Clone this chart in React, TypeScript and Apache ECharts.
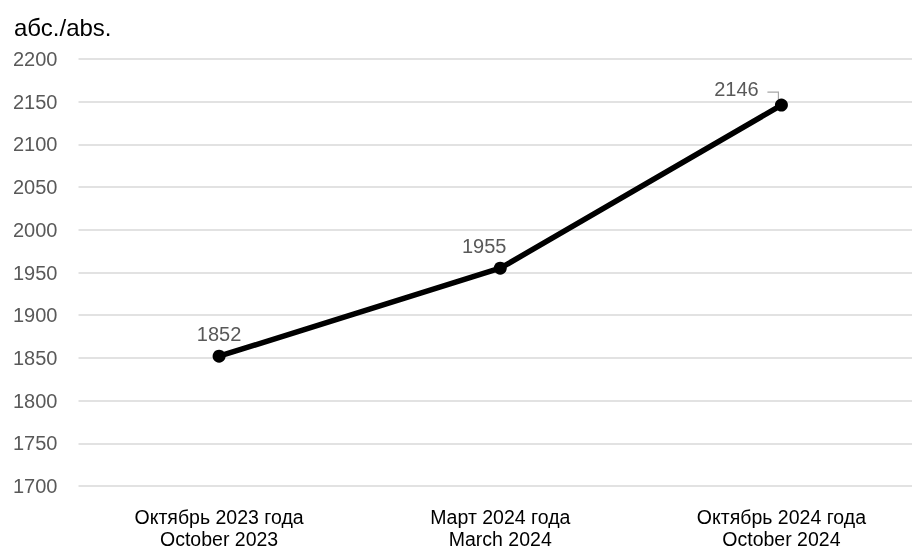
import React, { useEffect, useRef } from "react";
import * as echarts from "echarts";

const categories = ["Октябрь 2023 года\nOctober 2023", "Март 2024 года\nMarch 2024", "Октябрь 2024 года\nOctober 2024"];
const values = [1852, 1955, 2146];
const yTicks = { min: 1700, max: 2200, interval: 50 };
const unitTitle = "абс./abs.";

export default function App() {
  const ref = useRef<HTMLDivElement>(null);
  useEffect(() => {
    document.body.style.margin = "0";
    document.body.style.overflow = "hidden";
    const chart = echarts.init(ref.current!, null, { renderer: "svg" });
    chart.setOption({
      animation: false,
      title: {
        text: unitTitle,
        left: 9,
        top: 10,
        textStyle: { fontFamily: "Liberation Sans", fontSize: 24, fontWeight: "normal", color: "#000" },
      },
      grid: { left: 78.5, right: 0, top: 59, bottom: 63 },
      xAxis: {
        type: "category",
        data: categories,
        boundaryGap: true,
        axisLine: { show: false },
        axisTick: { show: false },
        axisLabel: {
          margin: 20,
          fontFamily: "Liberation Sans",
          fontSize: 19.5,
          lineHeight: 22,
          color: "#000",
        },
      },
      yAxis: {
        type: "value",
        min: yTicks.min,
        max: yTicks.max,
        interval: yTicks.interval,
        axisLine: { show: false },
        axisTick: { show: false },
        splitLine: { lineStyle: { color: "#d9d9d9", width: 1.5 } },
        axisLabel: {
          margin: 21,
          fontFamily: "Liberation Sans",
          fontSize: 20,
          color: "#595959",
          formatter: (v: number) => String(v),
        },
      },
      series: [
        {
          type: "line",
          data: values.map((v, i) => ({
            value: v,
            label:
              i === 1
                ? { offset: [-16, 3] }
                : i === 2
                ? { offset: [-45, 9] }
                : { offset: [0, 3] },
          })),
          lineStyle: { color: "#000", width: 5.5 },
          itemStyle: { color: "#000" },
          symbol: "circle",
          symbolSize: 13,
          label: {
            show: true,
            position: "top",
            distance: 9,
            fontFamily: "Liberation Sans",
            fontSize: 20,
            color: "#595959",
          },
        },
      ],
    });
    const p = chart.convertToPixel({ gridIndex: 0 } as any, [2, values[2]]) as number[];
    chart.setOption({
      graphic: [
        {
          type: "polyline",
          shape: { points: [[p[0] - 14, p[1] - 13], [p[0] - 3, p[1] - 13], [p[0] - 3, p[1] - 5]] },
          style: { stroke: "#a6a6a6", lineWidth: 1.2, fill: "none" },
        },
      ],
    });
    return () => chart.dispose();
  }, []);
  return <div ref={ref} style={{ position: "fixed", left: 0, top: 0, width: 922, height: 550 }} />;
}
